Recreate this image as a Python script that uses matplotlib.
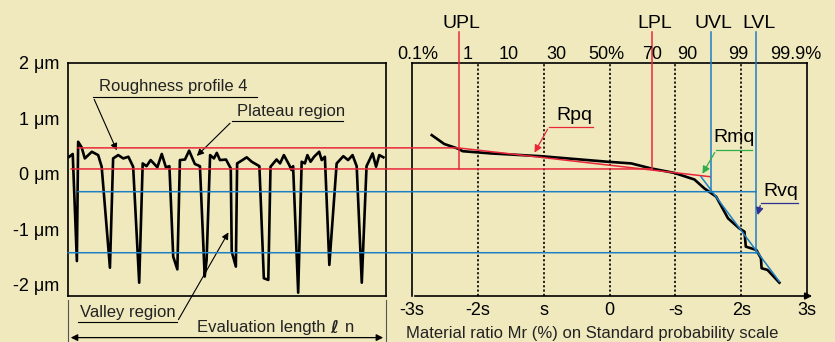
import matplotlib
matplotlib.use("Agg")
import matplotlib.pyplot as plt
from matplotlib.patches import ConnectionPatch

plt.rcParams['font.family'] = ['Liberation Sans', 'DejaVu Sans']

BG = '#efe9bd'
RED = '#e8283a'
BLUE = '#1f7fc4'
GREEN = '#2fae48'
NAVY = '#2e3192'

# roughness profile (evaluation length 0..100, height in um)
prof_x = [0.4, 1.5, 2.8, 3.2, 4.3, 5.3, 7.5, 9.5, 10.6, 13.2, 14.2, 15.8, 17.4, 19.0,
          20.5, 22.4, 23.5, 24.7, 26.0, 28.1, 29.5, 30.8, 31.9, 33.1, 34.4, 35.2,
          36.8, 38.1, 39.9, 41.5, 43.0, 43.6, 44.7, 45.9, 46.8, 47.8, 49.7, 51.2,
          51.5, 52.8, 53.2, 54.6, 56.2, 57.8, 60.2, 61.6, 63.0, 63.7, 65.6, 66.7,
          67.9, 69.6, 70.3, 70.8, 72.4, 73.5, 74.5, 75.3, 76.3, 77.4, 79.0, 79.8,
          80.8, 82.2, 84.5, 86.6, 88.1, 89.5, 90.8, 92.4, 93.9, 95.8, 96.9, 97.9, 99.2]
prof_y = [0.31, 0.36, -1.57, 0.58, 0.48, 0.28, 0.40, 0.34, 0.13, -1.69, 0.28, 0.34, 0.28, 0.31,
          0.13, -1.96, 0.19, 0.14, 0.25, 0.12, 0.36, 0.12, 0.14, -1.49, -1.72, 0.25,
          0.26, 0.42, 0.18, 0.14, -1.85, -1.55, 0.34, 0.28, 0.38, 0.25, 0.26, 0.10,
          -1.40, -1.67, 0.19, 0.24, 0.30, 0.22, 0.14, -1.88, -1.91, 0.13, 0.26, 0.19,
          0.34, 0.16, 0.07, 0.14, -2.14, 0.22, 0.19, 0.34, 0.22, 0.31, 0.40, 0.25,
          0.31, -1.64, 0.19, 0.32, 0.25, 0.34, 0.14, -1.96, 0.14, 0.37, 0.13, 0.34, 0.30]

# material ratio curve on normal probability scale (sigma units)
mr_x = [-2.70, -2.51, -2.31, -2.23, -1.80, -1.04, -0.03, 0.33, 0.63, 0.98, 1.29, 1.44,
        1.62, 1.80, 1.97, 2.05, 2.07, 2.23, 2.30, 2.31, 2.40, 2.58]
mr_y = [0.70, 0.54, 0.46, 0.41, 0.37, 0.32, 0.22, 0.19, 0.10, 0.02, -0.10, -0.26,
        -0.41, -0.80, -0.98, -1.04, -1.31, -1.37, -1.52, -1.70, -1.73, -1.96]

# fitted lines and levels
rpq_x = [-2.30, 1.53]
rpq_y = [0.47, -0.05]
rmq_x = [1.39, 2.58]
rmq_y = [-0.05, -1.94]
level_names = ['UPL', 'LPL', 'UVL', 'LVL']
level_x = [-2.29, 0.65, 1.54, 2.23]
level_y = [0.09, 0.09, -0.32, -1.42]   # lower end of each vertical
level_col = [RED, RED, BLUE, BLUE]
hlines_y = [0.47, 0.09, -0.32, -1.42]
hlines_x0 = [3.1, 0.9, 3.1, 0.0]       # start in profile panel
hlines_x1 = [-2.30, 0.65, 2.23, 2.23]  # end in probability panel
hlines_col = [RED, RED, BLUE, BLUE]

sigma_ticks = [-3, -2, -1, 0, 1, 2, 3]
sigma_labels = ['-3s', '-2s', 's', '0', '-s', '2s', '3s']
pct_labels = ['0.1%', '1', '10', '30', '50%', '70', '90', '99', '99.9%']
pct_pos = [-2.91, -2.16, -1.53, -0.81, -0.04, 0.65, 1.18, 1.96, 2.83]

height_ticks = [2, 1, 0, -1, -2]
height_labels = ['2 \u03bcm', '1 \u03bcm', '0 \u03bcm', '-1 \u03bcm', '-2 \u03bcm']

YLIM = (-2.2, 2.0)

fig = plt.figure(figsize=(8.35, 3.42), dpi=100, facecolor=BG)
ax1 = fig.add_axes([0.0814, 0.1345, 0.3808, 0.6813])
ax2 = fig.add_axes([0.4934, 0.1345, 0.4731, 0.6813])
for ax in (ax1, ax2):
    ax.set_facecolor(BG)
    ax.set_ylim(*YLIM)
    for sp in ax.spines.values():
        sp.set_linewidth(1.2)
        sp.set_color('black')

# ---- left panel: roughness profile
ax1.set_xlim(0, 100)
ax1.plot(prof_x, prof_y, color='black', lw=1.9, zorder=2)
ax1.set_xticks([])
ax1.set_yticks(height_ticks)
ax1.set_yticklabels(height_labels, fontsize=13)
ax1.tick_params(axis='y', length=0, pad=6)

ax1.text(9.7, 1.57, 'Roughness profile 4', fontsize=12, va='center', color='#222222')
ax1.plot([7.9, 59.4], [1.39, 1.39], color='black', lw=0.8)
ax1.annotate('', xy=(15.7, 0.38), xytext=(7.9, 1.39),
             arrowprops=dict(arrowstyle='-|>', color='black', lw=0.8, mutation_scale=10))
ax1.text(53.1, 1.12, 'Plateau region', fontsize=12, va='center', color='#222222')
ax1.plot([51.6, 86.5], [0.95, 0.95], color='black', lw=0.8)
ax1.annotate('', xy=(39.9, 0.29), xytext=(51.6, 0.95),
             arrowprops=dict(arrowstyle='-|>', color='black', lw=0.8, mutation_scale=10))
ax1.text(3.8, -2.50, 'Valley region', fontsize=12, va='center', color='#222222', clip_on=False)
ax1.plot([3.1, 34.3], [-2.67, -2.67], color='black', lw=0.8, clip_on=False)
ax1.annotate('', xy=(50.9, -1.01), xytext=(34.3, -2.67),
             arrowprops=dict(arrowstyle='-|>', color='black', lw=0.8, mutation_scale=10))
ax1.text(40.6, -2.77, 'Evaluation length', fontsize=12, va='center',
         color='#222222', clip_on=False)
ax1.text(83.6, -2.77, '\u2113', fontsize=12, ha='center', va='center', family='DejaVu Sans',
         weight='bold', style='italic', color='#222222', clip_on=False)
ax1.text(88.7, -2.77, 'n', fontsize=12, ha='center', va='center', color='#222222', clip_on=False)
ax1.annotate('', xy=(0, -2.95), xytext=(100, -2.95), annotation_clip=False,
             arrowprops=dict(arrowstyle='<|-|>', color='black', lw=0.9, mutation_scale=10))
for xe in (0, 100):
    ax1.plot([xe, xe], [-2.27, -3.05], color='#555555', lw=0.8, clip_on=False)

# ---- right panel: material ratio on probability scale
ax2.set_xlim(-3, 3)
for xv in [-2, -1, 0, 1, 2]:
    ax2.axvline(xv, color='black', lw=1.2, ls=(0, (1.3, 1.3)), zorder=1)
ax2.plot(mr_x, mr_y, color='black', lw=1.9, zorder=2)
ax2.plot(rpq_x, rpq_y, color=RED, lw=1.1, zorder=3)
ax2.plot(rmq_x, rmq_y, color=BLUE, lw=1.1, zorder=3)
for name, xv, y0, col in zip(level_names, level_x, level_y, level_col):
    ax2.plot([xv, xv], [y0, 2.56], color=col, lw=1.1, clip_on=False, zorder=3)
    ax2.text(xv + 0.04, 2.72, name, fontsize=14, ha='center', va='center')
for name, xv in zip(pct_labels, pct_pos):
    ax2.text(xv, 2.15, name, fontsize=13, ha='center', va='center')

ax2.set_xticks(sigma_ticks)
ax2.set_xticklabels(sigma_labels, fontsize=13)
ax2.set_yticks([])
ax2.tick_params(axis='x', length=0, pad=4)
ax2.spines['bottom'].set_visible(False)
ax2.annotate('', xy=(1.02, 0), xytext=(0, 0), xycoords='axes fraction',
             arrowprops=dict(arrowstyle='-|>', color='black', lw=1.2, mutation_scale=10))
ax2.text(-3.09, -2.88, 'Material ratio Mr (%) on Standard probability scale',
         fontsize=12, va='center', color='#222222', clip_on=False)

# labels with leader lines
ax2.text(-0.54, 1.05, 'Rpq', fontsize=14, ha='center', va='center')
ax2.plot([-0.92, -0.25], [0.85, 0.85], color=RED, lw=0.9)
ax2.annotate('', xy=(-1.16, 0.34), xytext=(-0.92, 0.85),
             arrowprops=dict(arrowstyle='-|>', color=RED, lw=0.9, mutation_scale=11))
ax2.text(1.89, 0.65, 'Rmq', fontsize=14, ha='center', va='center')
ax2.plot([1.62, 2.17], [0.43, 0.43], color=GREEN, lw=0.9)
ax2.annotate('', xy=(1.39, -0.04), xytext=(1.62, 0.43),
             arrowprops=dict(arrowstyle='-|>', color=GREEN, lw=0.9, mutation_scale=11))
ax2.text(2.60, -0.32, 'Rvq', fontsize=14, ha='center', va='center')
ax2.plot([2.30, 2.86], [-0.52, -0.52], color=NAVY, lw=0.9)
ax2.annotate('', xy=(2.24, -0.79), xytext=(2.30, -0.52),
             arrowprops=dict(arrowstyle='-|>', color=NAVY, lw=0.9, mutation_scale=11))

# horizontal levels running across both panels
for y, x0, x1, col in zip(hlines_y, hlines_x0, hlines_x1, hlines_col):
    con = ConnectionPatch(xyA=(x0, y), coordsA=ax1.transData,
                          xyB=(x1, y), coordsB=ax2.transData,
                          color=col, lw=1.1, zorder=4)
    fig.add_artist(con)

fig.savefig('out.png', dpi=100, facecolor=BG)
